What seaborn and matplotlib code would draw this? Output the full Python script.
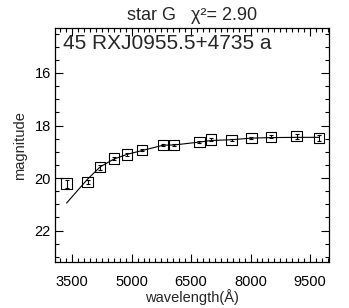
import numpy as np
import pandas as pd
import matplotlib
matplotlib.use("Agg")
import matplotlib.pyplot as plt
from matplotlib.ticker import MultipleLocator
import seaborn as sns

# BATC-like filter wavelengths (Angstrom) and measured magnitudes
wavelength = [3360, 3890, 4210, 4550, 4880, 5270, 5795, 6075, 6710, 7010, 7520, 8020, 8520, 9160, 9720]
mag_obs = [20.21, 20.15, 19.59, 19.26, 19.10, 18.93, 18.74, 18.74, 18.63, 18.53, 18.56, 18.47, 18.43, 18.41, 18.47]
mag_err = [0.15, 0.08, 0.10, 0.05, 0.05, 0.04, 0.04, 0.04, 0.04, 0.05, 0.04, 0.05, 0.06, 0.10, 0.12]
mag_model = [20.95, 20.04, 19.57, 19.28, 19.10, 18.95, 18.75, 18.74, 18.63, 18.57, 18.54, 18.48, 18.46, 18.45, 18.45]

title_text = "star G   \u03c7\u00b2= 2.90"
label_text = "45 RXJ0955.5+4735 a"

df = pd.DataFrame({"wavelength": wavelength, "obs": mag_obs, "err": mag_err, "model": mag_model})

sns.set_style("ticks")
plt.rcParams["font.family"] = ["Liberation Sans", "DejaVu Sans"]

fig = plt.figure(figsize=(3.49, 3.08), dpi=100)
ax = fig.add_axes([0.159, 0.149, 0.784, 0.759])

# model curve
sns.lineplot(data=df, x="wavelength", y="model", color="black", linewidth=0.8, ax=ax)
# observed points: open squares with small error bars
ax.errorbar(df["wavelength"], df["obs"], yerr=df["err"], fmt="none",
            ecolor="black", elinewidth=0.8, capsize=1.5, capthick=0.8)
sns.scatterplot(data=df, x="wavelength", y="obs", marker="s", s=55,
                facecolor="none", edgecolor="black", linewidth=0.8, ax=ax, zorder=3)

ax.set_xlim(3080, 9980)
ax.set_ylim(23.2, 14.3)
ax.xaxis.set_major_locator(MultipleLocator(1500, offset=500))
ax.xaxis.set_minor_locator(MultipleLocator(150, offset=50))
ax.yaxis.set_major_locator(MultipleLocator(2))
ax.yaxis.set_minor_locator(MultipleLocator(0.5))
ax.tick_params(which="both", direction="in", top=True, right=True, labelsize=10.5, colors="black")
ax.tick_params(which="major", length=6, width=0.8)
ax.tick_params(which="minor", length=3, width=0.8)
ax.tick_params(axis="x", which="major", pad=9)
for sp in ax.spines.values():
    sp.set_linewidth(0.9)
    sp.set_color("black")

ax.set_xlabel("wavelength(\u00c5)", fontsize=10.5, labelpad=0)
ax.set_ylabel("magnitude", fontsize=10.5, labelpad=5)
ax.set_title(title_text, fontsize=13, pad=6)
ax.text(0.028, 0.935, label_text, transform=ax.transAxes, fontsize=15, va="center", ha="left")

fig.savefig("out.png", dpi=100)
